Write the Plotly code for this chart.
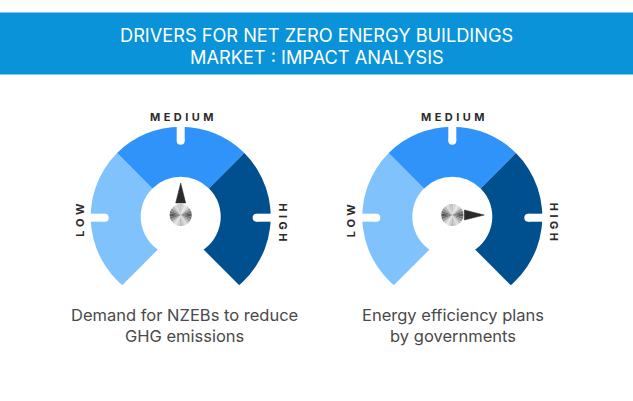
import math
import plotly.graph_objects as go

W, H = 633, 401

# slice spans in degrees, clockwise from the lower left end of each gauge
zones = ['LOW', 'MEDIUM', 'HIGH', '']
zone_span = [105, 90, 105, 60]
zone_colors = ['#80C3FC', '#2F93FA', '#00508F', '#FFFFFF']

gauge_names = ['Demand for NZEBs to reduce<br>GHG emissions',
               'Energy efficiency plans<br>by governments']
gauge_cx = [180.7, 452.3]
name_x = [184.5, 453.3]
needle_angle = [0, 90]  # degrees clockwise from straight up

knob_span = [15] * 24
knob_colors = ['#C0C0C0', '#D6D6D6', '#E6E6E6', '#D0D0D0', '#A0A0A0', '#747474',
               '#5A5A5A', '#747474', '#989898', '#BCBCBC', '#DCDCDC', '#CCCCCC',
               '#B8B8B8', '#D0D0D0', '#E4E4E4', '#CECECE', '#9E9E9E', '#727272',
               '#585858', '#707070', '#949494', '#B8B8B8', '#D8D8D8', '#C8C8C8']

title_lines = ['DRIVERS FOR NET ZERO ENERGY BUILDINGS', 'MARKET : IMPACT ANALYSIS']
title_y = [35, 57]

CY = 216.7
R_OUT = 90
R_IN = 40
R_KNOB = 11
KNOB_CY = 215


def px_domain(cx, cy, r):
    return dict(x=[(cx - r) / W, (cx + r) / W],
                y=[1 - (cy + r) / H, 1 - (cy - r) / H])


fig = go.Figure()

for cx in gauge_cx:
    fig.add_trace(go.Pie(values=zone_span, labels=zones, sort=False, direction='clockwise',
                         rotation=210, hole=R_IN / R_OUT, textinfo='none', hoverinfo='label',
                         marker=dict(colors=zone_colors, line=dict(width=0)),
                         domain=px_domain(cx, CY, R_OUT), showlegend=False))

# needles
for cx, angle in zip(gauge_cx, needle_angle):
    a = math.radians(angle)
    ux, uy = math.sin(a), -math.cos(a)
    vx, vy = -uy, ux
    base_x, base_y = cx + ux * 12, KNOB_CY + uy * 12
    tip_x, tip_y = cx + ux * 32, KNOB_CY + uy * 32
    fig.add_trace(go.Scatter(x=[tip_x, base_x - vx * 5, base_x + vx * 5, tip_x],
                             y=[tip_y, base_y - vy * 5, base_y + vy * 5, tip_y],
                             mode='lines', fill='toself', fillcolor='#2B2B2B',
                             line=dict(color='#2B2B2B', width=0.5),
                             hoverinfo='skip', showlegend=False))

# brushed metal knob
for cx in gauge_cx:
    fig.add_trace(go.Pie(values=knob_span, sort=False, direction='clockwise', rotation=-7.5,
                         textinfo='none', hoverinfo='skip',
                         marker=dict(colors=knob_colors, line=dict(width=0)),
                         domain=px_domain(cx, KNOB_CY, R_KNOB), showlegend=False))

# banner, the slanted cut at the bottom of each gauge and the rim notches
shapes = [dict(type='rect', xref='x', yref='y', x0=0, x1=W, y0=12.5, y1=74.5,
               fillcolor='#0A93D8', line=dict(width=0), layer='below')]
for cx in gauge_cx:
    shapes.append(dict(type='path', xref='x', yref='y', layer='above',
                       path=f'M {cx} {CY + 10} L {cx - 85} {CY + 95} L {cx + 85} {CY + 95} Z',
                       fillcolor='white', line=dict(width=0)))
    for dx, dy, off in [(-1, 0, 1), (0, -1, 0), (1, 0, 1)]:
        shapes.append(dict(type='line', xref='x', yref='y', layer='above',
                           x0=cx + dx * 92, x1=cx + dx * 76,
                           y0=CY + dy * 92 + off, y1=CY + dy * 76 + off,
                           line=dict(color='white', width=8)))
        shapes.append(dict(type='circle', xref='x', yref='y', layer='above',
                           x0=cx + dx * 76 - 4, x1=cx + dx * 76 + 4,
                           y0=CY + dy * 76 + off - 4, y1=CY + dy * 76 + off + 4,
                           fillcolor='white', line=dict(width=0)))

annotations = [dict(x=W / 2, y=y, text=line, font=dict(family='Inter', size=18.2, color='white'))
               for line, y in zip(title_lines, title_y)]
spaced = lambda s: '\u2009\u2009'.join(s)
label_font = dict(family='Inter', size=11, color='#2B2B2B', weight=700)
for cx, nx, name in zip(gauge_cx, name_x, gauge_names):
    annotations += [
        dict(x=nx, y=325.5, text=name, font=dict(family='Inter', size=16.5, color='#4A4A4A')),
        dict(x=cx + 1, y=117, text=spaced('MEDIUM'), font=label_font),
        dict(x=cx - 101, y=220, text=spaced('LOW'), textangle=-90, font=label_font),
        dict(x=cx + 102, y=222, text=spaced('HIGH'), textangle=90, font=label_font),
    ]
for a in annotations:
    a.update(xref='x', yref='y', showarrow=False, xanchor='center', yanchor='middle')

fig.update_layout(
    width=W, height=H, margin=dict(l=0, r=0, t=0, b=0),
    paper_bgcolor='white', plot_bgcolor='rgba(0,0,0,0)',
    xaxis=dict(range=[0, W], visible=False, fixedrange=True),
    yaxis=dict(range=[H, 0], visible=False, fixedrange=True),
    shapes=shapes,
    annotations=annotations,
)

# the page's default body margin would push the figure 8px off
fig.write_html('out.html', config={'displayModeBar': False},
               post_script="document.body.style.margin='0';")
